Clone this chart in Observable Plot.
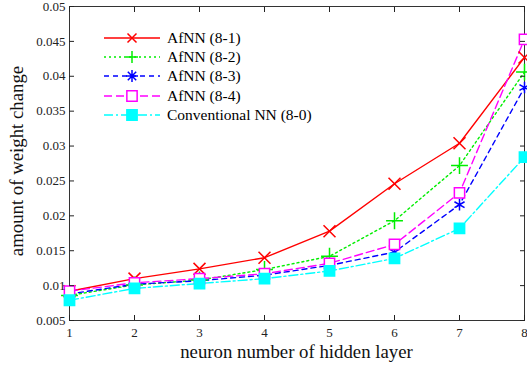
<!DOCTYPE html>
<html><head><meta charset="utf-8">
<script src="https://cdn.jsdelivr.net/npm/d3@7"></script>
<script src="https://cdn.jsdelivr.net/npm/@observablehq/plot@0.6"></script>
<style>
body{margin:0;background:#fff;}
#wrap{position:relative;width:527px;height:370px;font-family:"Liberation Serif",serif;}
#legend{position:absolute;left:103px;top:28px;font-family:"Liberation Serif",serif;font-size:15.5px;}
#legend div{height:19.3px;display:flex;align-items:center;}
#legend svg{margin-right:6px;}
</style></head>
<body><div id="wrap"><div id="chart"></div><div id="legend"></div></div>
<script>
const layers = [1,2,3,4,5,6,7,8];
const afnn81 = [0.0092,0.0110,0.0124,0.0140,0.0178,0.0246,0.0304,0.0427];
const afnn82 = [0.0086,0.0101,0.0108,0.0123,0.0142,0.0193,0.0272,0.0406];
const afnn83 = [0.0088,0.0102,0.0107,0.0115,0.0129,0.0148,0.0216,0.0384];
const afnn84 = [0.0092,0.0104,0.0110,0.0117,0.0132,0.0159,0.0233,0.0453];
const conv80 = [0.0079,0.0096,0.0103,0.0110,0.0121,0.0139,0.0182,0.0284];
const seriesNames = ["AfNN (8-1)","AfNN (8-2)","AfNN (8-3)","AfNN (8-4)","Conventional NN (8-0)"];
const seriesValues = [afnn81,afnn82,afnn83,afnn84,conv80];
const xTicks = [1,2,3,4,5,6,7,8];
const yTicks = [0.005,0.01,0.015,0.02,0.025,0.03,0.035,0.04,0.045,0.05];

const styles = [
  {stroke:"#ff0000", dash:null, symbol:"times", fill:"none", r:5.5},
  {stroke:"#00ee00", dash:"2,3", symbol:"plus", fill:"none", r:5.5},
  {stroke:"#0000ff", dash:"5,4", symbol:"asterisk", fill:"none", r:5.5},
  {stroke:"#ff00ff", dash:"8,4", symbol:"square", fill:"white", r:5.8},
  {stroke:"#00ffff", dash:"9,3,2,3", symbol:"square", fill:"#00ffff", r:5.8}
];

const rows = [];
seriesValues.forEach((vals,i)=>vals.forEach((v,j)=>rows.push({s:i,x:layers[j],y:v})));

const marks = [Plot.frame({stroke:"#333"})];
styles.forEach((st,i)=>{
  const d = rows.filter(r=>r.s===i);
  marks.push(Plot.line(d,{x:"x",y:"y",stroke:st.stroke,strokeWidth:1.4,strokeDasharray:st.dash}));
});
styles.forEach((st,i)=>{
  const d = rows.filter(r=>r.s===i);
  marks.push(Plot.dot(d,{x:"x",y:"y",symbol:()=>st.symbol,r:st.r,stroke:st.stroke,fill:st.fill,strokeWidth:1.5}));
});
marks.push(
  Plot.axisX({ticks:xTicks,tickSize:-5,tickPadding:12,tickFormat:d=>String(d),fontSize:13,label:null}),
  Plot.axisX({anchor:"top",ticks:xTicks,tickSize:-5,fill:"none",label:null}),
  Plot.axisY({ticks:yTicks,tickSize:-5,tickPadding:9,tickFormat:d=>String(+d.toFixed(3)),fontSize:13,label:null}),
  Plot.axisY({anchor:"right",ticks:yTicks,tickSize:-5,fill:"none",label:null})
);

const chart = Plot.plot({
  width:527, height:370,
  marginLeft:69, marginRight:3, marginTop:6, marginBottom:50,
  style:{fontFamily:"'Liberation Serif',serif",color:"#222",background:"white"},
  x:{domain:[1,8]},
  y:{domain:[0.005,0.05]},
  symbol:{type:"identity"},
  marks
});
document.getElementById("chart").appendChild(chart);

// axis titles as text within the svg
const svg = d3.select(chart);
svg.append("text").attr("x",(69+524)/2).attr("y",358).attr("text-anchor","middle")
  .attr("font-size",18.8).attr("font-family","'Liberation Serif',serif").attr("fill","#111").text("neuron number of hidden layer");
svg.append("text").attr("transform","translate(23,161) rotate(-90)").attr("text-anchor","middle")
  .attr("font-size",18.8).attr("font-family","'Liberation Serif',serif").attr("fill","#111").text("amount of weight change");

// legend
const leg = document.getElementById("legend");
styles.forEach((st,i)=>{
  const row = document.createElement("div");
  const sym = d3.symbol().type(d3.symbolSquare).size(st.r*st.r*Math.PI)();
  let symPath = st.symbol==="plus" ? "M-6,0H6M0,-6V6" : (st.symbol==="times" ? "M-4.5,-4.5L4.5,4.5M-4.5,4.5L4.5,-4.5" : (st.symbol==="asterisk" ? "M-6,0H6M0,-6V6M-4.2,-4.2L4.2,4.2M-4.2,4.2L4.2,-4.2" : sym));
  row.innerHTML = `<svg width="58" height="16"><line x1="1" x2="57" y1="8" y2="8" stroke="${st.stroke}" stroke-width="1.4" ${st.dash?`stroke-dasharray="${st.dash}"`:""}/><path transform="translate(29,8)" d="${symPath}" stroke="${st.stroke}" fill="${st.fill}" stroke-width="1.5"/></svg><span>${seriesNames[i]}</span>`;
  leg.appendChild(row);
});
</script></body></html>
